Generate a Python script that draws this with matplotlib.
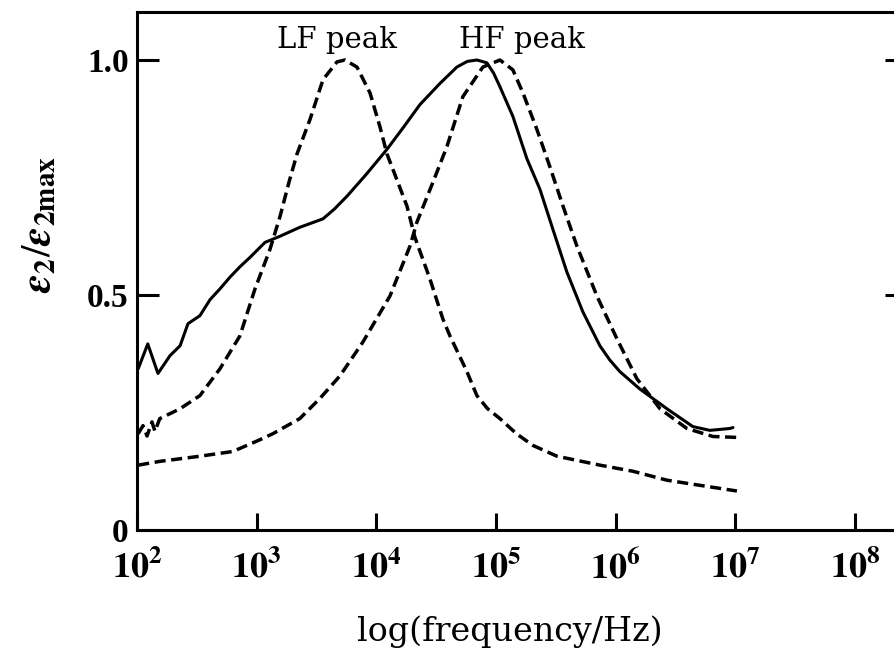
import numpy as np
import matplotlib
matplotlib.use("Agg")
import matplotlib.pyplot as plt
from matplotlib.ticker import FixedLocator, NullLocator

plt.rcParams['mathtext.fontset'] = 'stix'

# ---- data (log10 of frequency in Hz, normalised eps2) ----
solid_logf = [2.01, 2.09, 2.175, 2.276, 2.36, 2.426, 2.526, 2.61, 2.70, 2.777, 2.86, 2.944, 3.07,
              3.195, 3.36, 3.554, 3.65, 3.754, 3.92, 4.089, 4.23, 4.364, 4.531, 4.673, 4.76,
              4.84, 4.924, 4.98, 5.033, 5.141, 5.258, 5.367, 5.475, 5.592, 5.726, 5.868,
              5.95, 6.035, 6.202, 6.428, 6.645, 6.787, 6.954, 6.98]
solid_val = [0.343, 0.396, 0.333, 0.371, 0.392, 0.439, 0.456, 0.49, 0.515, 0.538, 0.56, 0.58, 0.612,
             0.625, 0.644, 0.662, 0.683, 0.71, 0.758, 0.81, 0.858, 0.905, 0.95, 0.985, 0.997,
             1.0, 0.994, 0.972, 0.943, 0.88, 0.79, 0.725, 0.64, 0.549, 0.464, 0.392,
             0.362, 0.337, 0.30, 0.258, 0.22, 0.212, 0.216, 0.218]

lf_logf = [2.01, 2.05, 2.084, 2.125, 2.15, 2.19, 2.36, 2.526, 2.693, 2.86, 2.986, 3.111,
           3.195, 3.27, 3.337, 3.445, 3.554, 3.671, 3.738, 3.838, 3.947, 4.03, 4.089,
           4.172, 4.256, 4.322, 4.448, 4.556, 4.615, 4.757, 4.84, 4.93, 5.033, 5.17,
           5.308, 5.509, 5.868, 6.144, 6.428, 6.705, 7.013]
lf_val = [0.205, 0.222, 0.20, 0.23, 0.21, 0.237, 0.258, 0.286, 0.343, 0.413, 0.513, 0.597,
          0.667, 0.74, 0.80, 0.873, 0.958, 0.996, 1.0, 0.985, 0.93, 0.858, 0.80,
          0.745, 0.689, 0.623, 0.534, 0.449, 0.413, 0.337, 0.286, 0.258, 0.237, 0.205,
          0.18, 0.157, 0.138, 0.125, 0.106, 0.095, 0.083]

hf_logf = [2.01, 2.19, 2.526, 2.80, 3.0, 3.086, 3.136, 3.36, 3.529, 3.696, 3.888, 4.114,
           4.281, 4.339, 4.473, 4.59, 4.723, 4.89, 5.033, 5.141, 5.225, 5.342, 5.45,
           5.56, 5.676, 5.843, 6.01, 6.177, 6.37, 6.595, 6.812, 7.013]
hf_val = [0.138, 0.146, 0.157, 0.167, 0.189, 0.199, 0.205, 0.237, 0.28, 0.328, 0.40, 0.498,
          0.604, 0.655, 0.74, 0.816, 0.922, 0.985, 1.0, 0.979, 0.93, 0.852, 0.773,
          0.689, 0.604, 0.498, 0.407, 0.322, 0.258, 0.216, 0.199, 0.197]

xtick_exp = [2, 3, 4, 5, 6, 7, 8]
ytick_vals = [0.0, 0.5, 1.0]
ytick_labels = ['0', '0.5', '1.0']

# ---- figure ----
fig = plt.figure(figsize=(8.95, 6.53), dpi=100)
ax = fig.add_axes([137/895, 123/653, 760/895, 518/653])
ax.set_xscale('log')

lw_s = 2.2
lw_d = 2.5
ax.plot(10**np.array(solid_logf), solid_val, color='black', lw=lw_s,
        solid_joinstyle='round', solid_capstyle='round')
ax.plot(10**np.array(lf_logf), lf_val, color='black', lw=lw_d, dashes=(3.2, 1.6))
ax.plot(10**np.array(hf_logf), hf_val, color='black', lw=lw_d, dashes=(3.2, 1.6))

ax.set_xlim(1e2, 10**(2 + 760/119.67))
ax.set_ylim(0, 518/470)

ax.xaxis.set_major_locator(FixedLocator([10.0**e for e in xtick_exp]))
ax.xaxis.set_minor_locator(NullLocator())
ax.set_xticklabels([r'$\mathbf{10^{%d}}$' % e for e in xtick_exp])
ax.yaxis.set_major_locator(FixedLocator(ytick_vals))
ax.set_yticklabels(ytick_labels)

for s in ax.spines.values():
    s.set_linewidth(2.2)
ax.spines['right'].set_visible(False)

ax.tick_params(axis='x', direction='in', length=12, width=2.2, pad=14, labelsize=26)
ax.tick_params(axis='y', which='major', direction='in', length=16, width=2.2, pad=6,
               labelsize=24, right=True)
for t in ax.yaxis.get_major_ticks():
    t.tick2line.set_markersize(9)
for lab in ax.get_yticklabels():
    lab.set_fontfamily('Liberation Serif')
    lab.set_fontweight('bold')

ax.text(10**3.67, 1.025, 'LF peak', family='DejaVu Serif', fontsize=21,
        ha='center', va='baseline')
ax.text(10**5.217, 1.025, 'HF peak', family='DejaVu Serif', fontsize=21,
        ha='center', va='baseline')

fig.text(510/895, 1 - 632/653, 'log(frequency/Hz)', family='DejaVu Serif', fontsize=24,
         ha='center', va='center')
fig.text(38/895, 1 - 225/653,
         r'$\mathbfit{\varepsilon}_{\mathbf{2}}/\mathbfit{\varepsilon}_{\mathbf{2max}}$',
         fontsize=30, rotation=90, ha='center', va='center')

fig.savefig('out.png', dpi=100)
